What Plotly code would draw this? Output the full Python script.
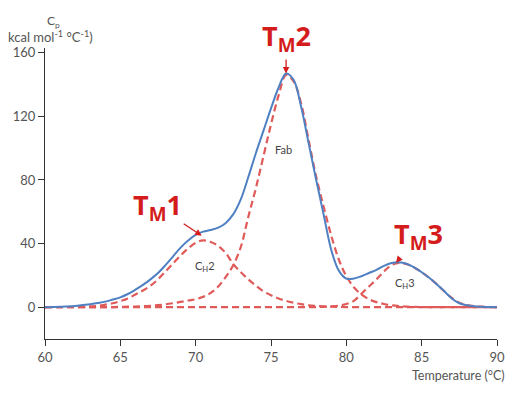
import plotly.graph_objects as go

# temperature grid (°C)
temp = [60, 61, 62, 63, 63.5, 64, 64.5, 65, 65.5, 66, 66.5, 67, 67.5, 68, 68.5,
        69, 69.5, 70, 70.5, 71, 71.5, 72, 72.5, 73, 73.5, 74, 74.5, 75, 75.5,
        76, 76.5, 77, 77.5, 78, 78.5, 79, 79.5, 80, 80.5, 81, 81.5, 82, 82.5,
        83, 83.5, 84, 84.5, 85, 85.5, 86, 86.5, 87, 87.5, 88, 88.5, 89, 89.5, 90]

# measured Cp (blue)
cp_total = [0, 0.3, 0.8, 1.8, 2.6, 3.5, 4.8, 6.2, 8.3, 11, 14, 17.5, 21.5, 26.5, 32,
            37.5, 42, 45.5, 47.5, 48.5, 50, 53, 58.5, 68, 82, 97, 111, 125, 138,
            147, 143, 126, 103, 80, 58, 36, 23, 18, 18, 19.5, 21.5, 23.5, 26,
            27.8, 28.3, 27.3, 25, 22, 18.5, 14.5, 10, 5.5, 2.5, 1.2, 0.6, 0.3, 0.1, 0]

# fitted components (red dashed)
cp_ch2 = [0, 0.1, 0.2, 0.5, 0.8, 1.6, 2.5, 3.8, 5.5, 8, 10.5, 13.5, 17.5, 22.5, 27.5,
          32.5, 37, 40.5, 42, 41, 38.5, 34, 27, 22, 17.5, 13.5, 10, 7.5, 5.5,
          4, 2.8, 1.9, 1.2, 0.8, 0.5, 0.3, 0.2, 0.1, 0, 0, 0, 0, 0,
          0, 0, 0, 0, 0, 0, 0, 0, 0, 0, 0, 0, 0, 0, 0]

cp_fab = [0, 0, 0, 0, 0, 0.1, 0.1, 0.2, 0.3, 0.4, 0.6, 0.9, 1.3, 1.8, 2.5,
          3.3, 4.2, 5, 6.5, 9, 13, 19, 26.5, 38, 57, 75, 95, 115, 133,
          146, 142, 128, 105, 82, 63, 45, 30, 19.5, 12.5, 8, 5, 3.2, 2,
          1.2, 0.7, 0.4, 0.2, 0.1, 0, 0, 0, 0, 0, 0, 0, 0, 0, 0]

cp_ch3 = [0, 0, 0, 0, 0, 0, 0, 0, 0, 0, 0, 0, 0, 0, 0,
          0, 0, 0, 0, 0, 0, 0, 0, 0, 0, 0, 0, 0, 0,
          0, 0, 0, 0, 0.1, 0.2, 0.5, 1, 2, 4, 8.5, 13, 17.5, 22.5,
          26.5, 27.8, 27, 25, 22, 18.5, 14.5, 10, 5.8, 2.8, 1.3, 0.6, 0.3, 0.1, 0]

x_ticks = [60, 65, 70, 75, 80, 85, 90]
y_ticks = [0, 40, 80, 120, 160]

RED = '#e05a5a'
DARK_RED = '#d41c1c'
BLUE = '#4f80c2'
FONT = 'Lato'

fig = go.Figure()
for comp in (cp_ch2, cp_fab, cp_ch3):
    fig.add_trace(go.Scatter(
        x=temp, y=comp, mode='lines',
        line=dict(color=RED, width=2.2, dash='7px,4px', shape='spline'),
        showlegend=False, hoverinfo='skip',
    ))
fig.add_trace(go.Scatter(
    x=temp, y=cp_total, mode='lines',
    line=dict(color=BLUE, width=2, shape='spline'),
    showlegend=False,
))

# Tm arrows
tm_notes = [
    (70.4, 45, 'T<sub>M</sub>1', -44, -29),
    (76.0, 147, 'T<sub>M</sub>2', 0, -36),
    (83.3, 28, 'T<sub>M</sub>3', 22, -27),
]
for x, y, txt, ax, ay in tm_notes:
    fig.add_annotation(
        x=x, y=y, text=f'<b>{txt}</b>', showarrow=True,
        ax=ax, ay=ay, arrowhead=2, arrowsize=1, arrowwidth=1.3,
        arrowcolor=DARK_RED, standoff=0, startstandoff=0,
        font=dict(size=27, color=DARK_RED, family='Open Sans'),
    )

# component labels
for x, y, txt in [(75.8, 99, 'Fab'), (70.6, 25.5, 'C<sub>H</sub>2'), (83.9, 15, 'C<sub>H</sub>3')]:
    fig.add_annotation(x=x, y=y, text=txt, showarrow=False,
                       font=dict(size=11, color='#444', family=FONT))

# axis titles
fig.add_annotation(xref='paper', yref='paper', x=0, y=1, yshift=37,
                   text='C<sub>p</sub>', showarrow=False,
                   font=dict(size=12, color='#555', family=FONT))
fig.add_annotation(xref='paper', yref='paper', x=0, y=1, xshift=-39, yshift=22,
                   xanchor='left', text='kcal mol<sup>-1</sup> °C<sup>-1</sup>)', showarrow=False,
                   font=dict(size=13, color='#555', family=FONT))
fig.add_annotation(xref='paper', yref='paper', x=1, y=0, xshift=10, yshift=-36,
                   xanchor='right', yanchor='middle', text='Temperature (°C)', showarrow=False,
                   font=dict(size=12.5, color='#555', family=FONT))

axis_style = dict(showgrid=False, zeroline=False, showline=True, linecolor='#333',
                  linewidth=1.3, ticks='outside', ticklen=6, tickcolor='#333',
                  automargin=False,
                  tickfont=dict(size=13, color='#555', family=FONT))

# page body keeps an 8px margin, so the figure is 8px smaller and shifted
fig.update_layout(
    width=518, height=399,
    margin=dict(l=37, r=29, t=40, b=68),
    paper_bgcolor='white', plot_bgcolor='white',
    xaxis=dict(range=[60, 90], tickvals=x_ticks, **axis_style),
    yaxis=dict(range=[-20, 163], tickvals=y_ticks, **axis_style),
)

fig.write_html('out.html')
